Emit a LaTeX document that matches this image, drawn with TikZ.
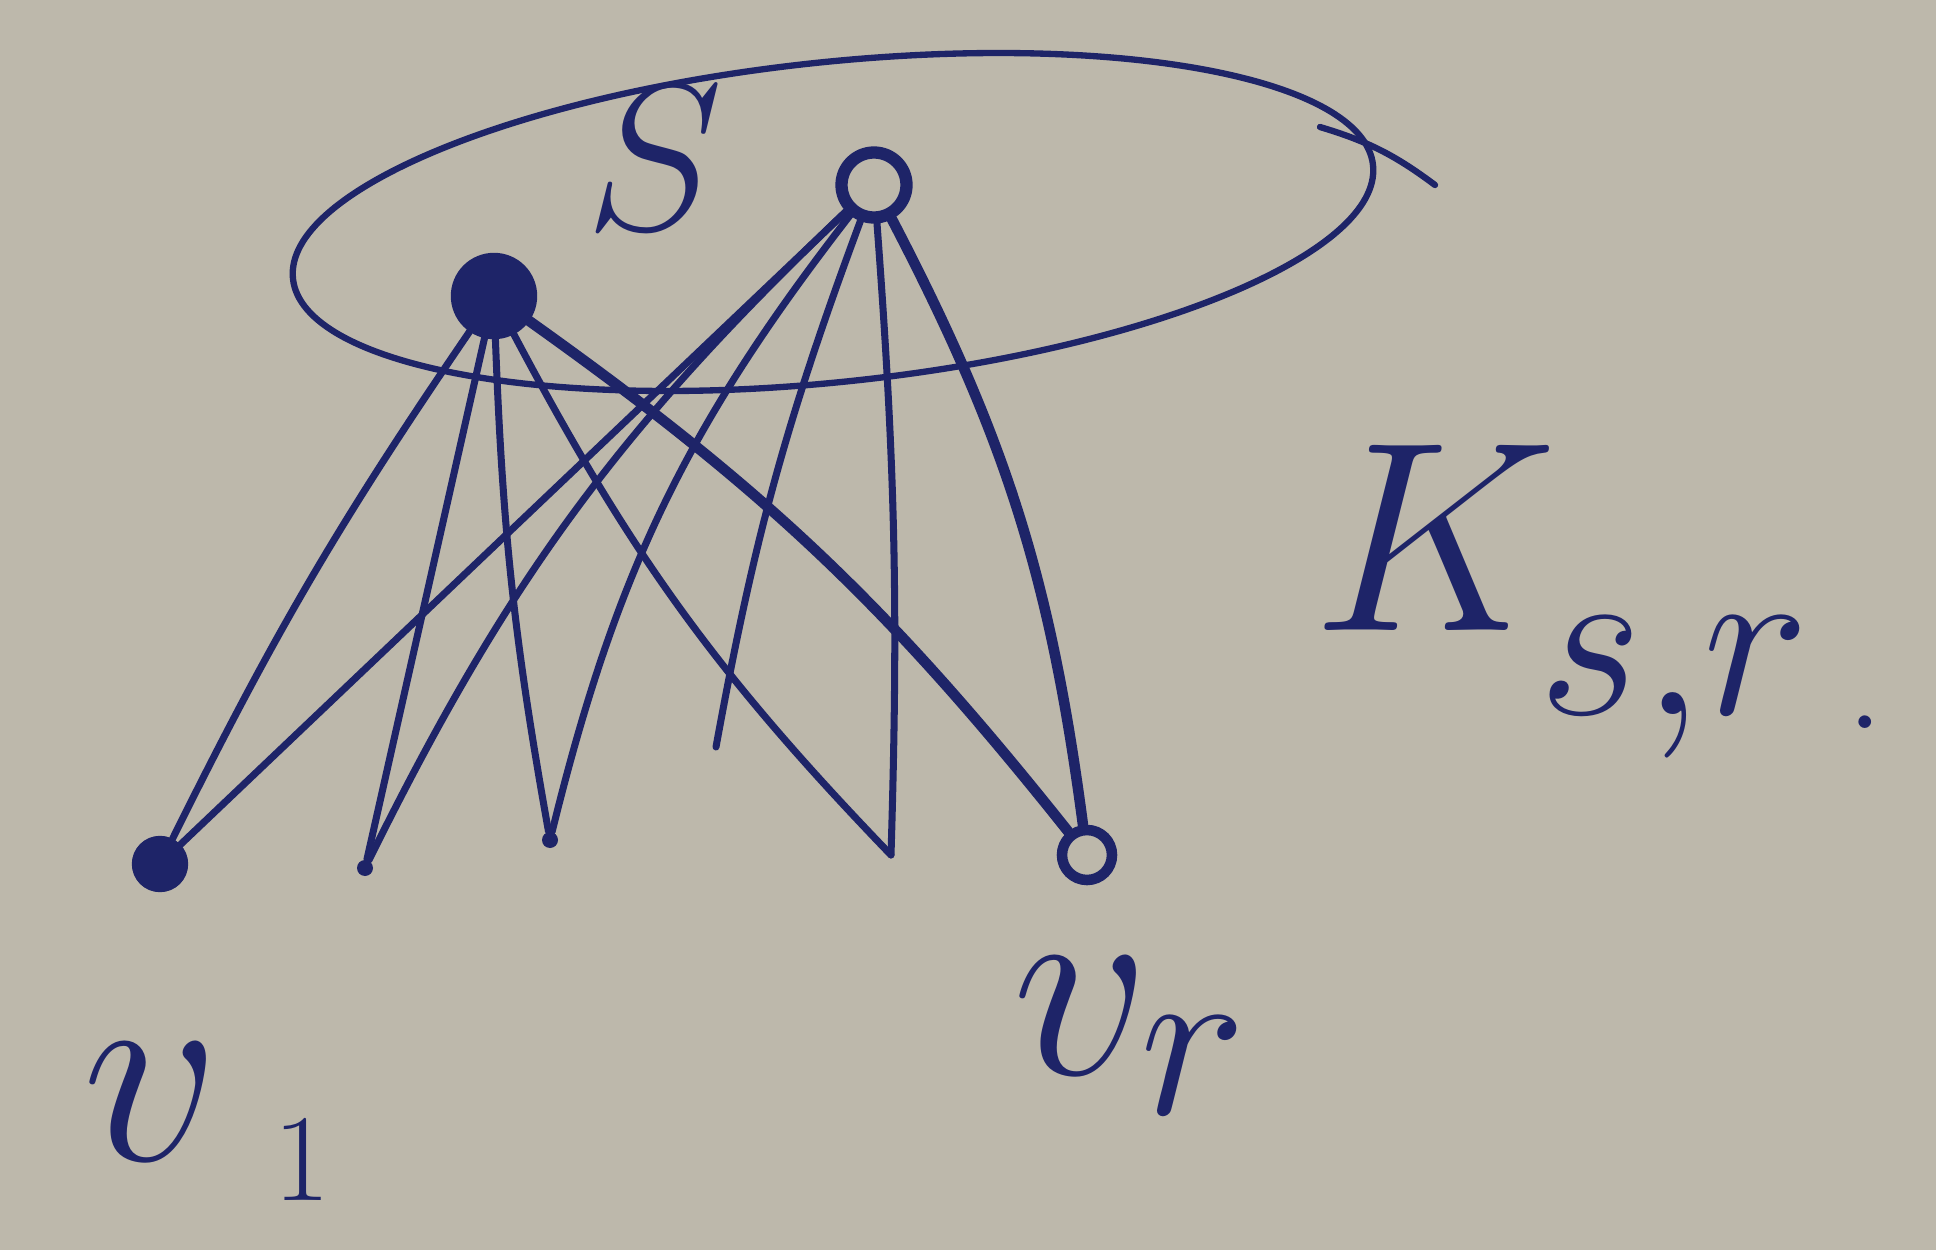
\documentclass[tikz,border=0pt]{standalone}
\usepackage{tikz}
\tikzset{
	papir/.style={fill=papirbarva},
	mnozica/.style={draw=crnilo, line width=1.8pt, line cap=round},
	vozel/.style={circle, fill=crnilo, draw=crnilo, inner sep=0pt},
	krog/.style={circle, draw=crnilo, fill=papirbarva, inner sep=0pt},
	pika/.style={circle, fill=crnilo, inner sep=0pt, minimum size=1.6mm},
	povezava/.style={draw=crnilo, line width=2pt, line cap=round},
	oznaka/.style={text=crnilo, inner sep=0pt, font=\Huge, scale=3.1},
}
\definecolor{papirbarva}{RGB}{189,184,171}
\definecolor{crnilo}{RGB}{30,36,104}

\begin{document}
\begin{tikzpicture}
\useasboundingbox[papir] (0,0) rectangle (19.36,-12.5);

\draw[mnozica, rotate around={6:(8.33,-2.22)}] (8.33,-2.22) ellipse (5.43 and 1.6);
\draw[mnozica] (13.2,-1.27) to[bend left=10] (14.35,-1.85);
\node[oznaka, scale=0.77] (s) at (6.54,-1.58) {$S$};

\node[vozel, minimum size=8.5mm] (a) at (4.94,-2.96) {};
\node[krog, line width=3.5pt, minimum size=6.5mm] (b) at (8.74,-1.85) {};

\node[vozel, minimum size=5.5mm] (v1) at (1.60,-8.64) {};
\node[pika] (w2) at (3.65,-8.68) {};
\node[pika] (w3) at (5.5,-8.4) {};
\coordinate (w4) at (8.91,-8.55);
\node[krog, line width=3pt, minimum size=5mm] (vr) at (10.87,-8.55) {};
\coordinate (konec) at (7.16,-7.47);

\draw[povezava] (a) to[bend right=4] (v1);
\draw[povezava] (a) -- (w2);
\draw[povezava] (a) to[bend right=4] (w3);
\draw[povezava] (a) to[bend right=8] (w4);
\draw[povezava, line width=3pt] (a) to[bend left=8] (vr);

\draw[povezava] (b) -- (v1);
\draw[povezava] (b) to[bend right=10] (w2);
\draw[povezava] (b) to[bend right=12] (w3);
\draw[povezava] (b) to[bend right=5] (konec);
\draw[povezava] (b) to[bend left=3] (w4);
\draw[povezava, line width=3pt] (b) to[bend left=10] (vr);

\node[oznaka, anchor=base west] (lv1) at (0.8,-11.6)
    {$v_{\;\scalebox{0.55}{$\scriptstyle 1$}}$};
\node[oznaka, anchor=base west] (lvr) at (10.1,-10.74) {$v_r$};
\node[oznaka, anchor=base west] (lk) at (13.1,-6.3)
    {$K_{\lower4pt\hbox{$\scriptstyle s,r$}}$\hspace{3pt}\lower9pt\hbox{\large .}};

\end{tikzpicture}
\end{document}
